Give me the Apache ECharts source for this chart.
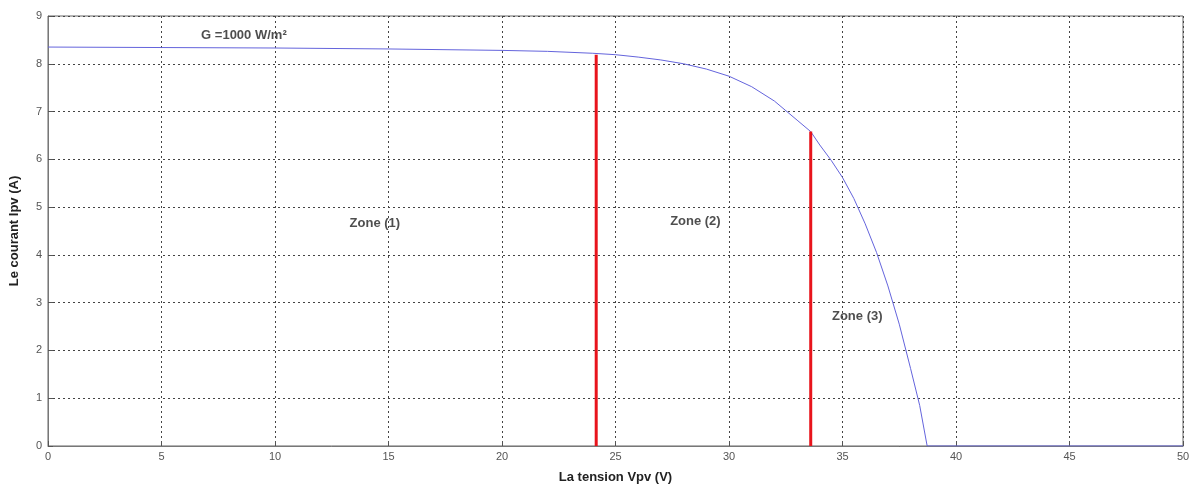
<!DOCTYPE html>
<html><head><meta charset="utf-8">
<script src="https://cdn.jsdelivr.net/npm/echarts@6/dist/echarts.min.js"></script>
<style>html,body{margin:0;padding:0;background:#fff}#c{width:1197px;height:489px}</style>
</head><body><div id="c"></div>
<script>
// I-V curve (G = 1000 W/m²)
const voltage = [0,5,10,15,20,22,24,25,26,27,28,29,30,31,32,33,33.6,34,34.5,35,35.5,36,36.5,37,37.5,38,38.4,38.73,40,45,50];
const current = [8.35,8.34,8.33,8.31,8.28,8.26,8.22,8.19,8.14,8.08,8.0,7.89,7.74,7.52,7.22,6.82,6.58,6.30,5.98,5.62,5.18,4.65,4.05,3.35,2.55,1.62,0.85,0,0,0,0];
// Zone boundaries (red vertical lines): [voltage, current at top]
const boundary1 = [24.15, 8.19];
const boundary2 = [33.6, 6.58];
// Annotations: [x, y, text]
const annotations = [
  [8.63, 8.6, 'G =1000 W/m²'],
  [14.4, 4.65, 'Zone (1)'],
  [28.52, 4.71, 'Zone (2)'],
  [35.65, 2.71, 'Zone (3)']
];
const xTicks = [0,5,10,15,20,25,30,35,40,45,50];
const yTicks = [0,1,2,3,4,5,6,7,8,9];

const chart = echarts.init(document.getElementById('c'));
const axisCommon = {
  axisLine: {show: true, lineStyle: {color: '#777', width: 1}},
  axisTick: {show: true, inside: true, length: 5, lineStyle: {color: '#555'}},
  splitLine: {show: true, lineStyle: {color: '#444', type: [2, 3], width: 1}},
  axisLabel: {color: '#555', fontSize: 11, fontFamily: 'Liberation Sans, Arial, sans-serif'},
  nameTextStyle: {color: '#222', fontSize: 13, fontWeight: 'bold', fontFamily: 'Liberation Sans, Arial, sans-serif'}
};
chart.setOption({
  animation: false,
  grid: {left: 47, right: 14, top: 16, bottom: 41, show: true, borderColor: '#666', borderWidth: 1},
  xAxis: Object.assign({}, axisCommon, {
    type: 'value', min: xTicks[0], max: xTicks[xTicks.length-1], interval: 5,
    name: 'La tension Vpv (V)', nameLocation: 'middle', nameGap: 25,
    axisLabel: Object.assign({}, axisCommon.axisLabel, {margin: 5})
  }),
  yAxis: Object.assign({}, axisCommon, {
    type: 'value', min: yTicks[0], max: yTicks[yTicks.length-1], interval: 1,
    name: 'Le courant Ipv (A)', nameLocation: 'middle', nameGap: 27,
    axisLabel: Object.assign({}, axisCommon.axisLabel, {margin: 6})
  }),
  series: [
    {type: 'line', data: voltage.map((v, i) => [v, current[i]]), showSymbol: false,
     lineStyle: {color: '#6464dc', width: 1}, z: 3},
    {type: 'line', data: [[boundary1[0], 0], boundary1], showSymbol: false,
     lineStyle: {color: '#e8141c', width: 3}, z: 4},
    {type: 'line', data: [[boundary2[0], 0], boundary2], showSymbol: false,
     lineStyle: {color: '#e8141c', width: 3}, z: 4},
    {type: 'scatter', symbolSize: 0, data: annotations.map(a => ({value: [a[0], a[1]], name: a[2]})),
     label: {show: true, position: 'inside', formatter: p => p.name, color: '#222',
       fontSize: 13, fontWeight: 'bold', fontFamily: 'Liberation Sans, Arial, sans-serif'}, z: 5}
  ]
});
</script></body></html>
